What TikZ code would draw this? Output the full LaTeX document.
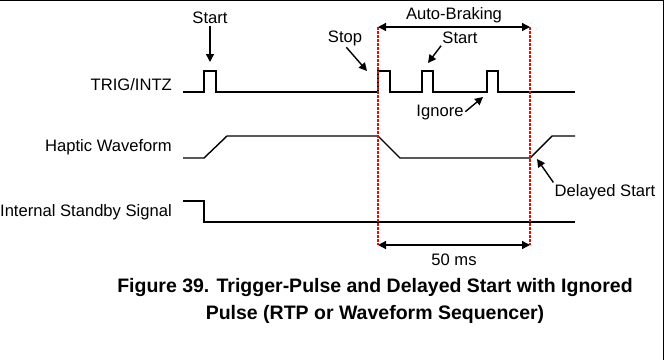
\documentclass[tikz,border=0pt]{standalone}
\usepackage{fontspec}
\setmainfont{Liberation Sans}
\usetikzlibrary{arrows.meta}

\begin{document}
\begin{tikzpicture}[
    x=1pt, y=-1pt,
    every node/.style={font=\fontsize{16.6}{19}\selectfont, inner sep=0pt},
    sig/.style={line width=1.4pt, line join=miter},
    arr/.style={-{Triangle[length=8pt, width=8pt]}, line width=1.4pt, shorten <=2pt},
    dim/.style={{Triangle[length=8pt, width=8pt]}-{Triangle[length=8pt, width=8pt]}, line width=1.4pt},
    marker/.style={red, line width=1.3pt, dash pattern=on 2.5pt off 1.5pt},
    captext/.style={font=\fontsize{19.5}{27}\selectfont\bfseries, align=center}
]
\useasboundingbox (0,0) rectangle (669,360);

% Frame (top and right edges only)
\draw[line width=1.2pt] (0,0.6) -- (663.5,0.6) -- (663.5,360);

% Signal names
\node[anchor=east] (trig) at (172,85) {TRIG/INTZ};
\node[anchor=east] (haptic) at (172,147) {Haptic Waveform};
\node[anchor=east] (stby) at (172,212) {Internal Standby Signal};

% Waveforms
\draw[sig] (183,92) -- (204,92) -- (204,71) -- (216,71) -- (216,92) -- (378,92)
    -- (378,71) -- (390,71) -- (390,92) -- (422,92) -- (422,71) -- (433,71) -- (433,92)
    -- (487,92) -- (487,71) -- (498,71) -- (498,92) -- (575,92);
\draw[sig] (183,158) -- (204,158) -- (227,136) -- (378,136) -- (400,158)
    -- (530,158) -- (552,136) -- (575,136);
\draw[sig] (183,201) -- (204,201) -- (204,222) -- (575,222);

% Timing markers
\coordinate (d1t) at (378,27);
\coordinate (d2t) at (530,27);
\coordinate (d1b) at (378,245);
\coordinate (d2b) at (530,245);
\draw[marker] (d1t) -- (d1b);
\draw[marker] (d2t) -- (d2b);
\draw[dim] (d1t) -- (d2t) node[midway, above=3pt] (ab) {Auto-Braking};
\draw[dim] (d1b) -- (d2b) node[midway, below=8pt] (ms) {50 ms};

% Event annotations
\node (start1) at (210,18) {Start};
\coordinate (p1) at (210,62);
\draw[arr] (start1) -- (p1);

\node (stop) at (345,38) {Stop};
\coordinate (p2) at (367,71);
\draw[arr] (stop.south) -- (p2);

\node (start2) at (460,38) {Start};
\coordinate (p3) at (428,63);
\draw[arr] (start2.south west) -- (p3);

\node (ignore) at (440,113) {Ignore};
\coordinate (p4) at (483,97);
\draw[arr] (ignore.east) -- (p4);

\node (dstart) at (605,192) {Delayed Start};
\coordinate (p5) at (537,159);
\draw[arr] (dstart.north west) -- (p5);

% Caption
\node[captext] (fig) at (375,301) {Figure 39. Trigger-Pulse and Delayed Start with Ignored\\Pulse (RTP or Waveform Sequencer)};

\end{tikzpicture}
\end{document}
